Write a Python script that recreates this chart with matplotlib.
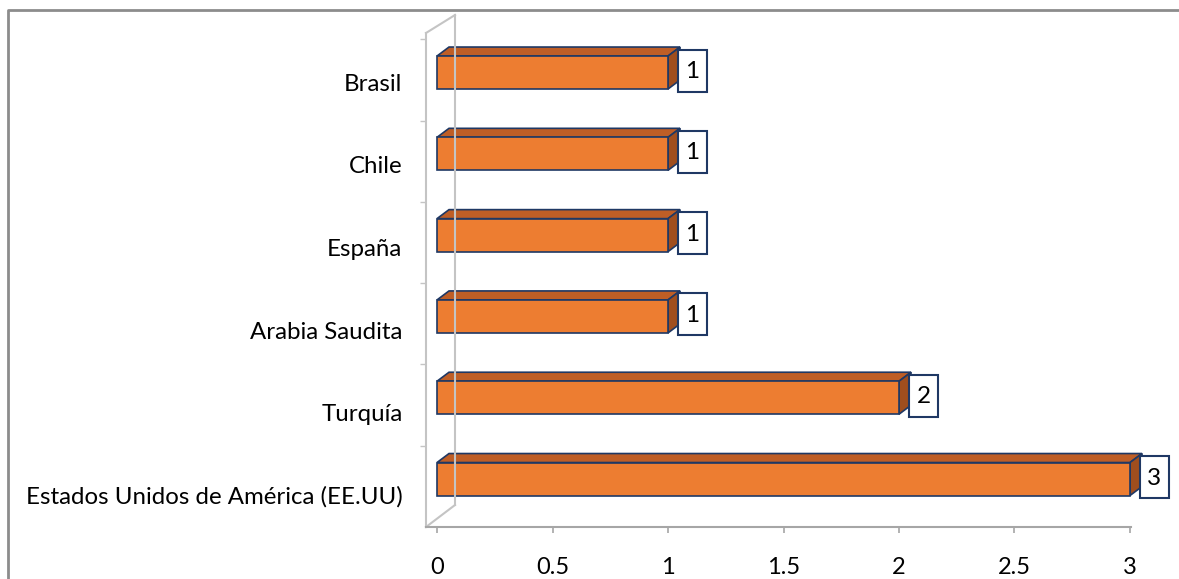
import matplotlib.pyplot as plt
from matplotlib.patches import Polygon, Rectangle
from matplotlib.lines import Line2D

# datos (de abajo hacia arriba)
paises = ["Estados Unidos de América (EE.UU)", "Turquía", "Arabia Saudita",
          "España", "Chile", "Brasil"]
valores = [3, 2, 1, 1, 1, 1]
ticks_x = [0, 0.5, 1, 1.5, 2, 2.5, 3]
etiquetas_x = ["0", "0.5", "1", "1.5", "2", "2.5", "3"]

plt.rcParams['font.family'] = ['Lato', 'DejaVu Sans']

W, H = 1179, 579
PX_X = 231.0   # pixeles por unidad en x
PX_Y = 81.3    # pixeles por categoria


def dx(p):
    return p / PX_X


def dy(p):
    return p / PX_Y


naranja = "#ED7D31"
arriba = "#BF5E26"
lado = "#A04E1E"
azul = "#1F3864"
gris = "#A6A6A6"
gris_claro = "#C4C4C4"

fig = plt.figure(figsize=(W / 100, H / 100), dpi=100)
ax = fig.add_axes([426 / W, (H - 527) / H, (1131 - 426) / W, (527 - 15) / H])
ax.set_xlim(-11 / PX_X, 694 / PX_X)
ax.set_ylim(0, 512 / PX_Y)
ax.patch.set_visible(False)

# paredes en perspectiva
x_frente = -11 / PX_X
x_fondo = dx(18)
y_top_frente = dy(494)
ax.plot([x_frente, x_fondo], [y_top_frente, dy(512)], color=gris_claro, lw=1.5, clip_on=False)
ax.plot([x_fondo, x_fondo], [dy(22), dy(512)], color=gris_claro, lw=1.5, clip_on=False)
ax.plot([x_frente, x_fondo], [0, dy(22)], color=gris_claro, lw=1.5, clip_on=False)

for s in ["top", "right"]:
    ax.spines[s].set_visible(False)
ax.spines["left"].set_bounds(0, y_top_frente)
ax.spines["left"].set_color(gris_claro)
ax.spines["left"].set_linewidth(1.5)
ax.spines["bottom"].set_color(gris)
ax.spines["bottom"].set_linewidth(1.5)

# barras 3D
alto = dy(33)
prof_x, prof_y = dx(12), dy(9)
for i, v in enumerate(valores):
    yc = i + 0.59
    y0, y1 = yc - alto / 2, yc + alto / 2
    ax.add_patch(Polygon([(0, y1), (v, y1), (v + prof_x, y1 + prof_y), (prof_x, y1 + prof_y)],
                         closed=True, facecolor=arriba, edgecolor=azul, lw=1.2, clip_on=False))
    ax.add_patch(Polygon([(v, y0), (v + prof_x, y0 + prof_y), (v + prof_x, y1 + prof_y), (v, y1)],
                         closed=True, facecolor=lado, edgecolor=azul, lw=1.2, clip_on=False))
    ax.add_patch(Rectangle((0, y0), v, alto, facecolor=naranja, edgecolor=azul, lw=1.2, clip_on=False))
    # etiqueta de valor
    bx = v + dx(10)
    ax.add_patch(Rectangle((bx, yc - dy(19)), dx(29), dy(42), facecolor="white",
                           edgecolor=azul, lw=1.5, clip_on=False, zorder=3))
    ax.text(bx + dx(14.5), yc + dy(1), str(v), ha="center", va="center",
            fontsize=17.5, color="black", zorder=4, clip_on=False)

# ejes
ax.set_xticks(ticks_x, etiquetas_x)
ax.tick_params(axis="x", length=4.5, width=1.2, color=gris, pad=17, labelsize=17)
# las etiquetas quedan un poco por debajo del centro de cada barra
ax.set_yticks([0.39 + 1.016 * i for i in range(len(paises))], paises)
ax.set_yticks(range(1, len(paises) + 1), minor=True)
ax.tick_params(axis="y", which="major", length=0, pad=17, labelsize=17.3)
ax.tick_params(axis="y", which="minor", length=4, width=1, color=gris_claro)

# borde exterior
fig.add_artist(Line2D([8 / W, 8 / W, 1], [0, (H - 10) / H, (H - 10) / H],
                      transform=fig.transFigure, color="#8C8C8C", lw=2))

fig.savefig("out.png", dpi=100)
